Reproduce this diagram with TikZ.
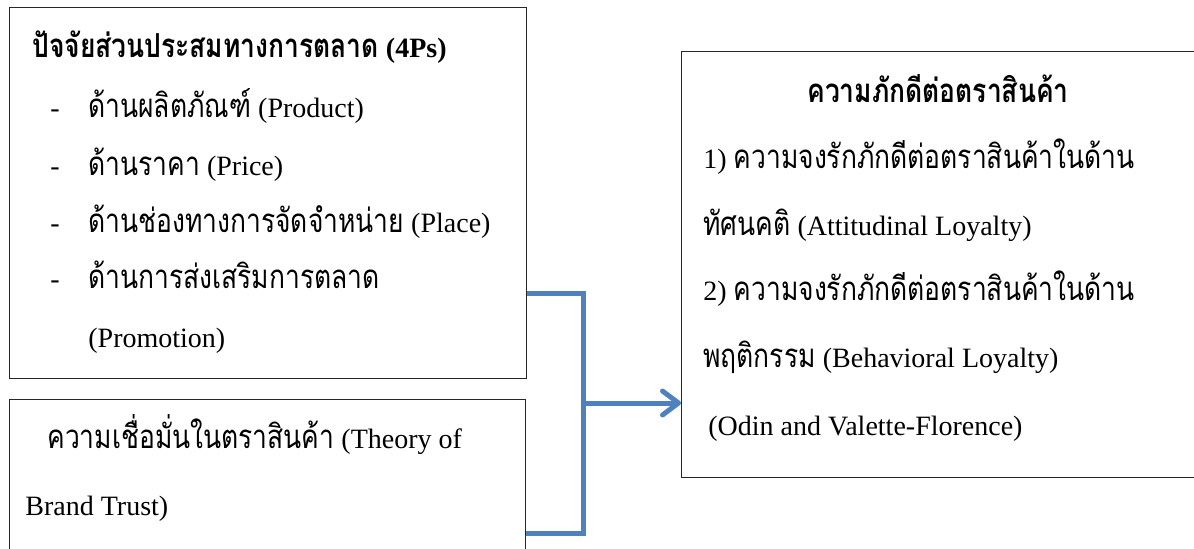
\documentclass[tikz,border=0pt]{standalone}
\usepackage{fontspec}
\setmainfont{Liberation Serif}
\newfontfamily\thaifont[Script=Thai,Scale=1.18,FakeStretch=0.8]{Loma}
\newcommand{\tha}[1]{{\thaifont #1}}
\usetikzlibrary{arrows.meta}
\definecolor{linkblue}{RGB}{79,129,189}
\tikzset{
	box/.style={draw=black!85, anchor=north west, inner sep=0pt, line width=0.7pt},
	txt/.style={anchor=base west, inner sep=0pt, font=\fontsize{14}{16}\selectfont},
	link/.style={draw=linkblue, line width=2.5pt, line join=miter},
}
\begin{document}
\begin{tikzpicture}[x=0.5pt,y=-0.5pt]
	\clip (0,0) rectangle (1194,548);
	\node [box, minimum width=258.5pt, minimum height=185.5pt] (mix) at (9,7) {};
	\node [box, minimum width=258pt, minimum height=100pt] (trust) at (9,399) {};
	\node [box, minimum width=275pt, minimum height=213pt] (loyal) at (681,51) {};
	\node [txt] (mixtitle) at (32,57) {\bfseries\tha{ปัจจัยส่วนประสมทางการตลาด} (4Ps)};
	\foreach \y/\t [count=\i] in {117/{\tha{ด้านผลิตภัณฑ์} (Product)},175/{\tha{ด้านราคา} (Price)},232/{\tha{ด้านช่องทางการจัดจำหน่าย} (Place)},288/{\tha{ด้านการส่งเสริมการตลาด}}}{%
			\node [txt] (dash\i) at (50,\y) {-};
			\node [txt] (item\i) at (88,\y) {\t};
			}
	\node [txt] (item5) at (88,347) {(Promotion)};
	\node [txt] (trust1) at (47,448) {\tha{ความเชื่อมั่นในตราสินค้า} (Theory of};
	\node [txt] (trust2) at (25,515) {Brand Trust)};
	\node [txt, anchor=base] (loyaltitle) at (938,102) {\bfseries\tha{ความภักดีต่อตราสินค้า}};
	\node [txt] (loyal1) at (703,168) {1) \tha{ความจงรักภักดีต่อตราสินค้าในด้าน}};
	\node [txt] (loyal2) at (703,235) {\tha{ทัศนคติ} (Attitudinal Loyalty)};
	\node [txt] (loyal3) at (703,300) {2) \tha{ความจงรักภักดีต่อตราสินค้าในด้าน}};
	\node [txt] (loyal4) at (703,367) {\tha{พฤติกรรม} (Behavioral Loyalty)};
	\node [txt] (loyal5) at (708,435) {(Odin and Valette-Florence)};
	\coordinate (top) at (583,293);
	\coordinate (split) at (583,403);
	\coordinate (bot) at (583,533);
	\draw [link] (mix.east |- top) -- (top) -- (bot) -- (trust.east |- bot);
	\draw [link, -{Straight Barb[round,length=8pt,width=12pt]}] (split) -- (loyal.west |- split);
\end{tikzpicture}
\end{document}
